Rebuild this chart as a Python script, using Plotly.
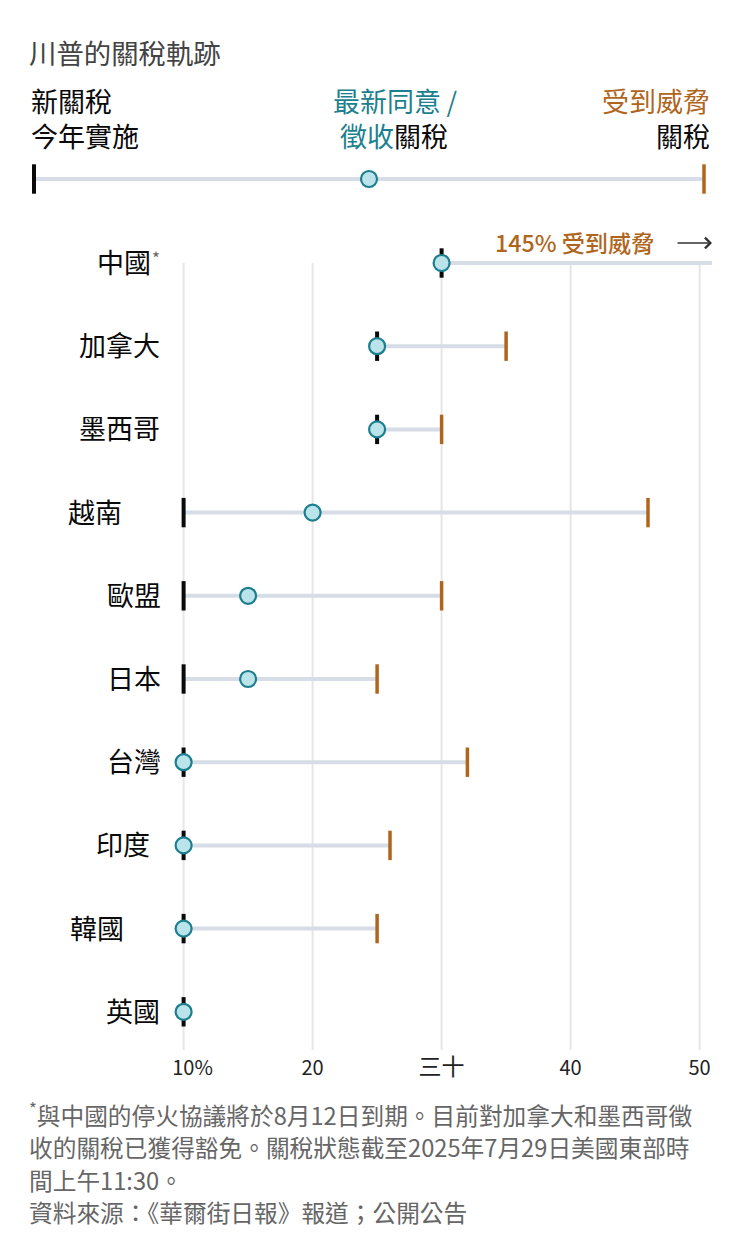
import plotly.graph_objects as go

# ---- data ----
countries = ["中國", "加拿大", "墨西哥", "越南", "歐盟", "日本", "台灣", "印度", "韓國", "英國"]
new_tariff = [30, 25, 25, 10, 10, 10, 10, 10, 10, 10]
latest_tariff = [30, 25, 25, 20, 15, 15, 10, 10, 10, 10]
threat_tariff = [145, 35, 30, 46, 30, 25, 32, 26, 25, None]
tick_values = [10, 20, 30, 40, 50]
tick_labels = ["10%", "20", "三十", "40", "50"]
key_values = [0, 0.5, 1]

title = "川普的關稅軌跡"
footnotes = [
    "<sup>*</sup>與中國的停火協議將於8月12日到期。目前對加拿大和墨西哥徵",
    "收的關稅已獲得豁免。關稅狀態截至2025年7月29日美國東部時",
    "間上午11:30。",
    "資料來源：《華爾街日報》報道；公開公告",
]

# ---- layout helpers ----
W, H = 740, 1251
FONT = "Noto Sans CJK TC"
BLACK, TEAL, ORANGE, FILL = "#0a0a0a", "#1c7f8e", "#b0651c", "#bbe3ea"
RANGE_LINE, GRID = "#d6dde6", "#e6e6e6"
label_right = [151.5, 160.5, 160.5, 123.5, 161.5, 161.5, 161.5, 150.5, 125.5, 160.5]
px_per_unit = 12.9
row_h = 83.2
x_at = lambda px: 10 + (px - 183.6) / px_per_unit
y_at = lambda px: (px - 263) / row_h
AXIS_RIGHT, AXIS_BOTTOM = 712, 1050
rows = list(range(len(countries)))
TEXT_DY = -1.5


def text(px, py, s, size=27, color=BLACK, anchor="left", weight=None):
    font = dict(family=FONT, size=size, color=color)
    if weight:
        font["weight"] = weight
    return dict(x=px / W, y=1 - (py + TEXT_DY) / H, xref="paper", yref="paper", text=s, showarrow=False,
                xanchor=anchor, yanchor="middle", align=anchor, borderpad=0, font=font)


def seg(xs0, xs1, ys):
    xs, yy = [], []
    for a, b, y in zip(xs0, xs1, ys):
        if b is None:
            continue
        xs += [a, b, None]
        yy += [y, y, None]
    return xs, yy


def tick(x, y, color, width, xaxis="x", yaxis="y"):
    return go.Scatter(x=x, y=y, xaxis=xaxis, yaxis=yaxis, mode="markers", cliponaxis=False, hoverinfo="skip",
                      marker=dict(symbol="line-ns", size=21, color=color,
                                  line=dict(color=color, width=width)))


def dot(x, y, xaxis="x", yaxis="y"):
    return go.Scatter(x=x, y=y, xaxis=xaxis, yaxis=yaxis, mode="markers", cliponaxis=False, hoverinfo="skip",
                      marker=dict(symbol="circle", size=16, color=FILL, line=dict(color=TEAL, width=2.2)))


fig = go.Figure()

# gridlines
gx, gy = [], []
for t in tick_values:
    gx += [t, t, None]
    gy += [0, y_at(AXIS_BOTTOM), None]
fig.add_trace(go.Scatter(x=gx, y=gy, mode="lines", line=dict(color=GRID, width=2), hoverinfo="skip"))

# range lines
lx, ly = seg(new_tariff, threat_tariff, rows)
fig.add_trace(go.Scatter(x=lx, y=ly, mode="lines", line=dict(color=RANGE_LINE, width=4), hoverinfo="skip"))

# marks
fig.add_trace(tick(new_tariff, rows, BLACK, 4))
vis = [(v, r) for v, r in zip(threat_tariff, rows) if v is not None and v <= 50]
fig.add_trace(tick([v for v, _ in vis], [r for _, r in vis], ORANGE, 3.5))
fig.add_trace(dot(latest_tariff, rows))

# key row on its own axes
fig.add_trace(go.Scatter(x=[key_values[0], key_values[-1]], y=[0, 0], xaxis="x2", yaxis="y2", mode="lines",
                         line=dict(color=RANGE_LINE, width=4), hoverinfo="skip"))
fig.add_trace(tick([key_values[0]], [0], BLACK, 4, "x2", "y2"))
fig.add_trace(tick([key_values[2]], [0], ORANGE, 3.5, "x2", "y2"))
fig.add_trace(dot([key_values[1]], [0], "x2", "y2"))

ann = [text(28, 53, title, 27.4, "#444444"),
       text(30, 102, "新關稅"), text(30, 137, "今年實施"),
       text(458, 102, "最新同意\u2009/", color=TEAL, anchor="right"),
       text(449.5, 137, f'<span style="color:{TEAL}">徵收</span>關稅', anchor="right"),
       text(711, 102, "受到威脅", color=ORANGE, anchor="right"),
       text(711, 137, "關稅", anchor="right"),
       text(494, 243, "145% 受到威脅", 23.2, ORANGE, weight=500)]
for i, (c, r) in enumerate(zip(countries, label_right)):
    ann.append(text(r, 263 + i * row_h, c, anchor="right"))
ann.append(text(151, 259, "*", 17, "#666666"))
for py, line in zip([1115, 1148, 1181, 1213], footnotes):
    ann.append(text(28, py, line, 23.7, "#666666"))
ann.append(dict(x=712 / W, y=1 - 243 / H, ax=-36, ay=0, xref="paper", yref="paper",
                axref="pixel", ayref="pixel", text="", showarrow=True, arrowhead=4, arrowsize=1.3,
                arrowwidth=1.6, arrowcolor="#333333"))

tick_text = ["\u00a0\u00a0\u00a0\u00a0" + tick_labels[0], tick_labels[1],
             f'<span style="font-size:23px">{tick_labels[2]}</span>', tick_labels[3], tick_labels[4]]

fig.update_layout(
    width=W, height=H, margin=dict(l=0, r=0, t=0, b=0), showlegend=False,
    paper_bgcolor="white", plot_bgcolor="white",
    font=dict(family=FONT),
    xaxis=dict(domain=[0, AXIS_RIGHT / W], range=[x_at(0), x_at(AXIS_RIGHT)], showgrid=False, zeroline=False,
               showline=False, ticks="", tickmode="array", tickvals=tick_values, ticktext=tick_text,
               tickfont=dict(family=FONT, size=20, color="#222222"), anchor="y", ticklabelstandoff=4),
    yaxis=dict(domain=[1 - AXIS_BOTTOM / H, 1 - 210 / H], range=[y_at(AXIS_BOTTOM), y_at(210)], visible=False, anchor="x"),
    xaxis2=dict(domain=[34 / W, 704 / W], range=[0, 1], visible=False, anchor="y2"),
    yaxis2=dict(domain=[1 - 194 / H, 1 - 164 / H], range=[-1, 1], visible=False, anchor="x2"),
    annotations=ann,
)

fig.write_html("out.html", config={"displayModeBar": False},
               post_script="document.body.style.margin='0';document.body.style.overflow='hidden';")
